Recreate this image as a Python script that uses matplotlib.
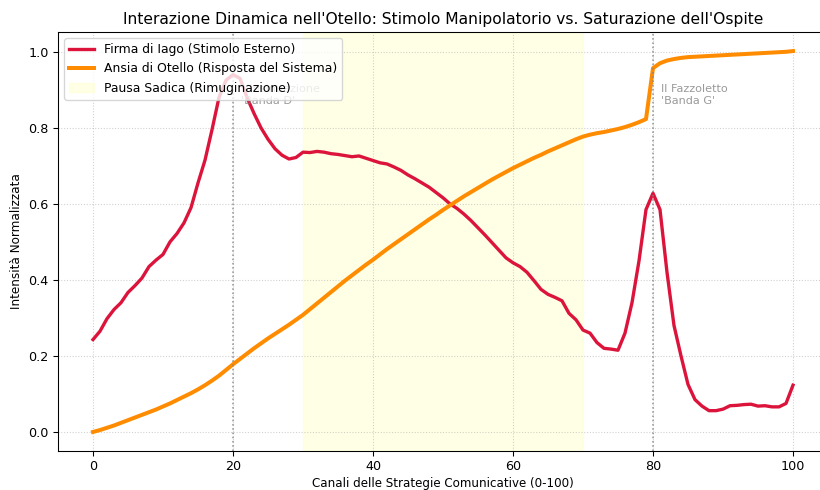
import matplotlib.pyplot as plt

# canali 0..100, un punto per canale
CANALI = list(range(101))

FIRMA_IAGO = [
    0.243, 0.265, 0.298, 0.322, 0.340, 0.367, 0.385, 0.405, 0.435, 0.452,
    0.467, 0.500, 0.522, 0.550, 0.590, 0.655, 0.715, 0.795, 0.880, 0.925,
    0.940, 0.930, 0.880, 0.838, 0.800, 0.770, 0.745, 0.728, 0.718, 0.722,
    0.736, 0.735, 0.738, 0.736, 0.732, 0.730, 0.727, 0.724, 0.726, 0.720,
    0.714, 0.708, 0.705, 0.697, 0.688, 0.676, 0.666, 0.655, 0.644, 0.630,
    0.616, 0.600, 0.588, 0.573, 0.556, 0.537, 0.518, 0.498, 0.478, 0.458,
    0.445, 0.435, 0.420, 0.398, 0.375, 0.362, 0.354, 0.345, 0.312, 0.295,
    0.268, 0.260, 0.235, 0.220, 0.218, 0.215, 0.260, 0.340, 0.450, 0.585,
    0.628, 0.585, 0.420, 0.280, 0.200, 0.125, 0.085, 0.068, 0.056, 0.056,
    0.060, 0.069, 0.070, 0.072, 0.073, 0.068, 0.069, 0.066, 0.066, 0.075,
    0.123,
]

ANSIA_OTELLO = [
    0.000, 0.005, 0.011, 0.017, 0.024, 0.031, 0.038, 0.045, 0.052, 0.059,
    0.067, 0.075, 0.084, 0.093, 0.102, 0.112, 0.123, 0.135, 0.148, 0.163,
    0.178, 0.192, 0.206, 0.220, 0.233, 0.246, 0.258, 0.270, 0.282, 0.295,
    0.308, 0.323, 0.338, 0.353, 0.368, 0.383, 0.398, 0.412, 0.426, 0.440,
    0.453, 0.467, 0.481, 0.494, 0.507, 0.520, 0.533, 0.546, 0.559, 0.571,
    0.584, 0.596, 0.608, 0.620, 0.631, 0.642, 0.653, 0.664, 0.674, 0.684,
    0.694, 0.703, 0.712, 0.721, 0.729, 0.738, 0.746, 0.754, 0.762, 0.770,
    0.777, 0.782, 0.786, 0.789, 0.793, 0.797, 0.802, 0.808, 0.815, 0.823,
    0.957, 0.970, 0.977, 0.981, 0.984, 0.986, 0.987, 0.988, 0.989, 0.990,
    0.991, 0.992, 0.993, 0.994, 0.995, 0.996, 0.997, 0.998, 0.999, 1.000,
    1.002,
]

PAUSA = (30, 70)
EVENTI = [20, 80]
ETICHETTE_EVENTI = ["L'Insinuazione\n'Banda D'", "Il Fazzoletto\n'Banda G'"]

plt.rcParams.update({
    "font.family": "DejaVu Sans",
    "font.size": 9.3,
    "xtick.labelsize": 9.6,
    "ytick.labelsize": 9.6,
})

DPI = 96
fig = plt.figure(figsize=(820 / DPI, 490 / DPI), dpi=DPI)
ax = fig.add_axes([58 / 820, 39 / 490, 770 / 820, 419 / 490])

ax.plot(CANALI, FIRMA_IAGO, color="crimson", linewidth=2.5,
        label="Firma di Iago (Stimolo Esterno)")
ax.plot(CANALI, ANSIA_OTELLO, color="darkorange", linewidth=3,
        label="Ansia di Otello (Risposta del Sistema)")
ax.axvspan(*PAUSA, color="#ffffcc", alpha=0.5,
           label="Pausa Sadica (Rimuginazione)")

for x, testo in zip(EVENTI, ETICHETTE_EVENTI):
    ax.axvline(x, color="gray", linestyle=":", linewidth=1.2, alpha=0.8)
    ax.text(x + 1.1, 0.915, testo, color="gray", fontsize=8.4, va="top",
            alpha=0.8)

ax.set_title("Interazione Dinamica nell'Otello: Stimolo Manipolatorio vs. "
             "Saturazione dell'Ospite", fontsize=11.6)
ax.set_xlabel("Canali delle Strategie Comunicative (0-100)", fontsize=8.9,
              labelpad=3)
ax.set_ylabel("Intensità Normalizzata", fontsize=9)
ax.grid(True, linestyle=":", alpha=0.6)
ax.legend(loc="upper left")

fig.savefig("out.png", dpi=DPI)
